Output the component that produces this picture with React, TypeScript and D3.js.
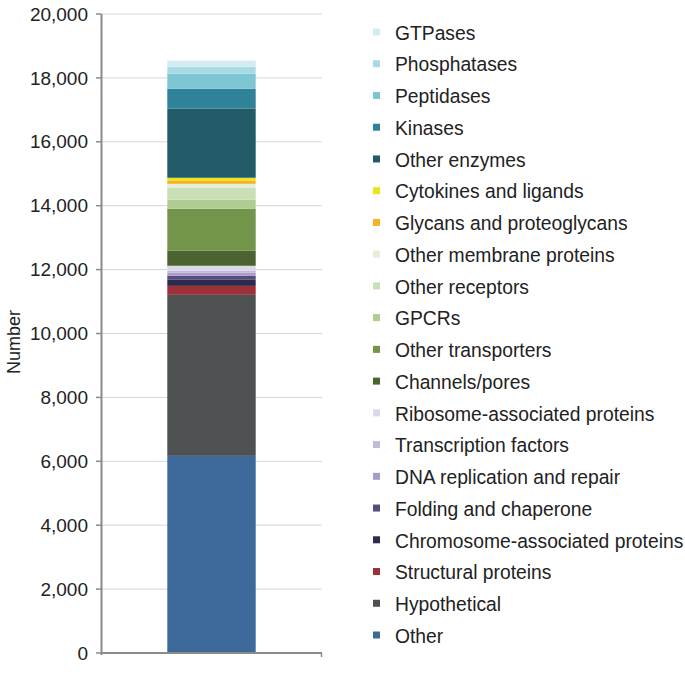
import React from "react";
import * as d3 from "d3";

// Stack order: bottom to top
const categories = [
  "Other",
  "Hypothetical",
  "Structural proteins",
  "Chromosome-associated proteins",
  "Folding and chaperone",
  "DNA replication and repair",
  "Transcription factors",
  "Ribosome-associated proteins",
  "Channels/pores",
  "Other transporters",
  "GPCRs",
  "Other receptors",
  "Other membrane proteins",
  "Glycans and proteoglycans",
  "Cytokines and ligands",
  "Other enzymes",
  "Kinases",
  "Peptidases",
  "Phosphatases",
  "GTPases",
];

const values = [
  6170, 5040, 280, 190, 125, 95, 65, 155, 470, 1315, 280, 375, 125, 95, 95,
  2160, 625, 470, 220, 190,
];

const colors = [
  "#3d6a9a",
  "#4e5151",
  "#9b3039",
  "#2b2b4b",
  "#584b82",
  "#a99dc8",
  "#c2badb",
  "#dbd8ea",
  "#4a6331",
  "#73954b",
  "#afcd90",
  "#c9dfb5",
  "#e5eedc",
  "#f5b324",
  "#ebe31b",
  "#225a67",
  "#2f8298",
  "#7fc6d5",
  "#a7dbe4",
  "#d3ecf1",
];

const yTicks = [0, 2000, 4000, 6000, 8000, 10000, 12000, 14000, 16000, 18000, 20000];
const yLabel = "Number";
const groups = ["All"];

const W = 685;
const H = 679;
const FONT = "'Liberation Sans', Arial, Helvetica, sans-serif";

export default function App() {
  const x = d3.scaleBand<string>().domain(groups).range([101, 322]).paddingInner(0).paddingOuter(0.75);
  const y = d3.scaleLinear().domain([0, 20000]).range([653, 14]);

  const row: Record<string, number> = {};
  categories.forEach((c, i) => (row[c] = values[i]));
  const series = d3.stack<Record<string, number>>().keys(categories)([row]);

  const legendOrder = categories.slice().reverse();
  const ly = d3.scalePoint<string>().domain(legendOrder).range([33, 636]);

  return (
    <svg width={W} height={H} style={{ display: "block", position: "absolute", left: 0, top: 0 }}>
      <rect width={W} height={H} fill="#fff" />
      {/* grid lines */}
      {yTicks.map((t) =>
        t === 0 ? null : (
          <line key={"g" + t} x1={101} x2={322} y1={y(t)} y2={y(t)} stroke="#d6d6d6" strokeWidth={1} />
        )
      )}
      {/* bars */}
      {series.map((s, i) => (
        <rect
          key={categories[i]}
          x={x("All")}
          width={x.bandwidth()}
          y={y(s[0][1])}
          height={y(s[0][0]) - y(s[0][1])}
          fill={colors[i]}
        />
      ))}
      {/* y axis */}
      <line x1={101.5} x2={101.5} y1={14} y2={655} stroke="#8a8a8a" strokeWidth={2} />
      {yTicks.map((t) => (
        <g key={"t" + t}>
          <line x1={96} x2={101} y1={y(t)} y2={y(t)} stroke="#8a8a8a" strokeWidth={1.5} />
          <text
            x={88}
            y={y(t)}
            dy="0.35em"
            textAnchor="end"
            fontFamily={FONT}
            fontSize={19}
            fill="#222"
          >
            {d3.format(",")(t)}
          </text>
        </g>
      ))}
      {/* x axis */}
      <line x1={101} x2={322} y1={653} y2={653} stroke="#8a8a8a" strokeWidth={2} />
      <line x1={321.5} x2={321.5} y1={653} y2={657} stroke="#8a8a8a" strokeWidth={1.5} />
      <text
        transform={`translate(20,342) rotate(-90)`}
        textAnchor="middle"
        fontFamily={FONT}
        fontSize={18}
        fill="#222"
      >
        {yLabel}
      </text>
      {/* legend */}
      {legendOrder.map((c) => {
        const i = categories.indexOf(c);
        const cy = ly(c) as number;
        return (
          <g key={"l" + c}>
            <rect x={373} y={cy - 4.5} width={7} height={7} fill={colors[i]} />
            <text x={395} y={cy} dy="0.35em" fontFamily={FONT} fontSize={19.3} fill="#222">
              {c}
            </text>
          </g>
        );
      })}
    </svg>
  );
}
